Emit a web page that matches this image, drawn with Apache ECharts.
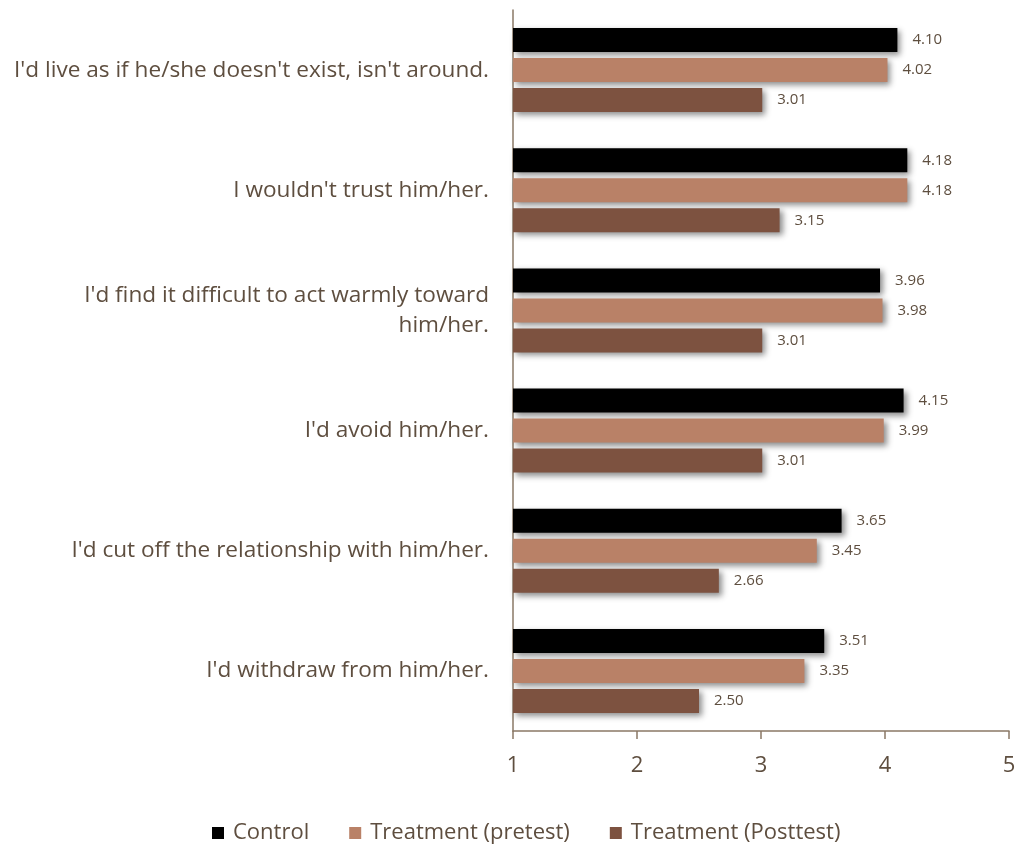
<!DOCTYPE html>
<html>
<head>
<meta charset="utf-8">
<script src="https://cdn.jsdelivr.net/npm/echarts@6/dist/echarts.min.js"></script>
<style>
  html, body { margin: 0; padding: 0; background: #fff; }
  #chart { width: 1018px; height: 846px; }
</style>
</head>
<body>
<div id="chart"></div>
<script>
// Statements, listed top to bottom
const statements = [
  "I'd live as if he/she doesn't exist, isn't around.",
  "I wouldn't trust him/her.",
  "I'd find it difficult to act warmly toward him/her.",
  "I'd avoid him/her.",
  "I'd cut off the relationship with him/her.",
  "I'd withdraw from him/her."
];

// Mean scores per group
const controlScores   = [4.10, 4.18, 3.96, 4.15, 3.65, 3.51];
const pretestScores   = [4.02, 4.18, 3.98, 3.99, 3.45, 3.35];
const posttestScores  = [3.01, 3.15, 3.01, 3.01, 2.66, 2.50];

const seriesNames = ['Control', 'Treatment (pretest)', 'Treatment (Posttest)'];
const xTicks = [1, 2, 3, 4, 5];

const textColor = '#5e4e3f';
const axisColor = '#8a7866';
const font = "'Open Sans', 'Noto Sans', sans-serif";
const catFontSize = 22.6;
const catMaxWidth = 482;

// Word-wrap a category label on spaces only, so "him/her." stays together
const measureCtx = document.createElement('canvas').getContext('2d');
measureCtx.font = catFontSize + 'px ' + font;
function wrapLabel(text) {
  const words = text.split(' ');
  const lines = [];
  let line = '';
  for (const w of words) {
    const trial = line ? line + ' ' + w : w;
    if (line && measureCtx.measureText(trial).width > catMaxWidth) {
      lines.push(line);
      line = w;
    } else {
      line = trial;
    }
  }
  lines.push(line);
  return lines.join('\n');
}

function makeSeries(name, data, color) {
  return {
    name: name,
    type: 'bar',
    data: data,
    barWidth: 24,
    barGap: '25%',
    barCategoryGap: '30%',
    itemStyle: {
      color: color,
      shadowColor: 'rgba(0,0,0,0.45)',
      shadowBlur: 6,
      shadowOffsetX: 3,
      shadowOffsetY: 3
    },
    label: {
      show: true,
      position: 'right',
      distance: 15,
      color: textColor,
      fontFamily: font,
      fontSize: 15,
      formatter: p => p.value.toFixed(2)
    }
  };
}

const chart = echarts.init(document.getElementById('chart'));
chart.setOption({
  animation: false,
  grid: { left: 513, right: 9, top: 10, bottom: 115, containLabel: false, outerBoundsMode: 'none' },
  legend: {
    top: 817,
    left: 207,
    itemWidth: 12,
    itemHeight: 12,
    itemGap: 40,
    icon: 'rect',
    textStyle: { color: textColor, fontSize: 22, fontFamily: font, padding: [0, 0, 0, 4] },
    data: seriesNames
  },
  xAxis: {
    type: 'value',
    min: xTicks[0],
    max: xTicks[xTicks.length - 1],
    interval: 1,
    axisLine: { show: true, lineStyle: { color: axisColor, width: 1.5 } },
    axisTick: { show: true, length: 8, lineStyle: { color: axisColor, width: 1.5 } },
    splitLine: { show: false },
    axisLabel: { color: textColor, fontSize: 22, fontFamily: font, margin: 24 }
  },
  yAxis: {
    type: 'category',
    inverse: true,
    data: statements,
    axisLine: { show: true, lineStyle: { color: axisColor, width: 1.5 } },
    axisTick: { show: false },
    axisLabel: {
      color: textColor,
      fontSize: catFontSize,
      fontFamily: font,
      margin: 24,
      lineHeight: 30,
      formatter: wrapLabel
    }
  },
  series: [
    makeSeries(seriesNames[0], controlScores, '#000000'),
    makeSeries(seriesNames[1], pretestScores, '#b98167'),
    makeSeries(seriesNames[2], posttestScores, '#7d5240')
  ]
});
</script>
</body>
</html>
